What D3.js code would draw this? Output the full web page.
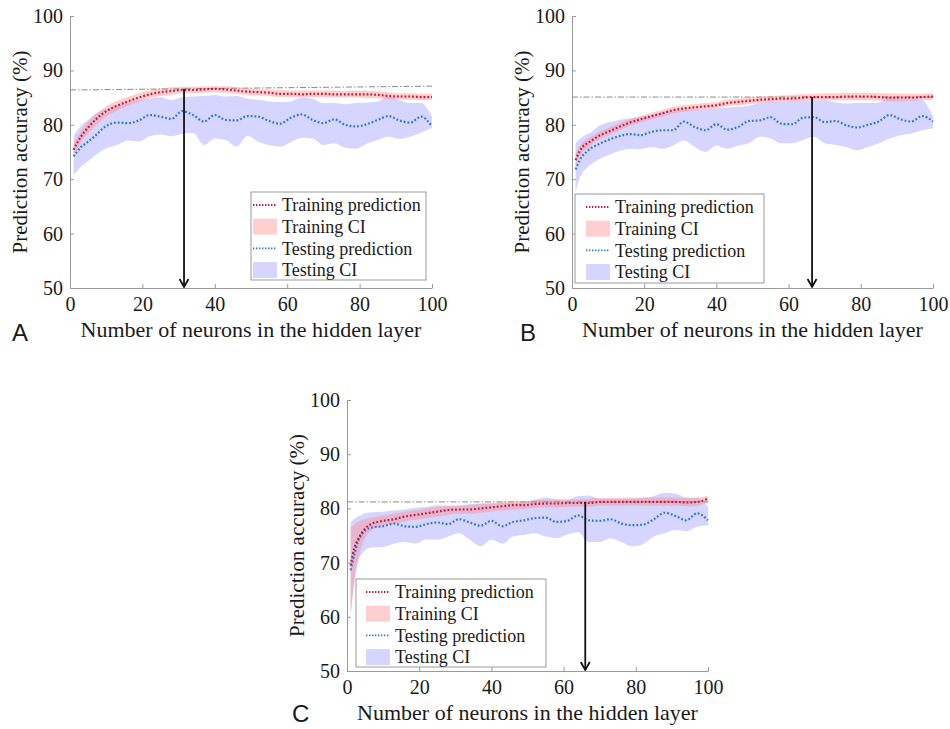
<!DOCTYPE html>
<html>
<head>
<meta charset="utf-8">
<script src="https://cdn.jsdelivr.net/npm/d3@7"></script>
<style>
  body { margin: 0; background: #fff; }
  svg text { font-family: "Liberation Serif", "Times New Roman", serif; fill: #1a1a1a; }
  svg text.letter { font-family: "Liberation Sans", Arial, sans-serif; }
</style>
</head>
<body>
<div id="chart"></div>
<script>
// Accuracy vs hidden layer size, three panels (A, B, C)
const WIDTH = 950;
const HEIGHT = 729;

const NEURONS = [1, 2, 3, 4, 5, 7, 10, 13, 16, 19, 22, 25, 28, 31, 34, 37, 40, 43, 46, 49,
  52, 55, 58, 61, 64, 67, 70, 73, 76, 79, 82, 85, 88, 91, 94, 97, 100];

// panel A
const A_TRAIN = [75.4, 76.7, 77.8, 78.7, 79.5, 80.9, 82.5, 83.5, 84.3, 85.0, 85.6, 86.0, 86.2, 86.4, 86.4, 86.5, 86.6, 86.5, 86.3, 86.1,
  86.0, 85.9, 85.7, 85.7, 85.6, 85.7, 85.7, 85.6, 85.6, 85.6, 85.6, 85.5, 85.3, 85.2, 85.2, 85.1, 85.1];
const A_TRAIN_HI = [76.6, 77.8, 78.9, 79.8, 80.6, 81.9, 83.4, 84.4, 85.1, 85.8, 86.3, 86.7, 86.9, 87.0, 87.0, 87.1, 87.1, 87.1, 86.9, 86.7,
  86.6, 86.5, 86.4, 86.3, 86.3, 86.3, 86.3, 86.3, 86.2, 86.3, 86.3, 86.1, 86.0, 85.8, 85.8, 85.7, 85.7];
const A_TRAIN_LO = [74.3, 75.5, 76.7, 77.6, 78.4, 79.8, 81.5, 82.6, 83.5, 84.2, 84.9, 85.3, 85.5, 85.8, 85.8, 85.9, 86.0, 85.9, 85.7, 85.5,
  85.4, 85.3, 85.1, 85.1, 85.0, 85.1, 85.1, 85.0, 85.0, 85.0, 84.9, 84.9, 84.7, 84.6, 84.6, 84.5, 84.5];
const A_TEST = [74.2, 75.1, 75.9, 76.4, 76.9, 78.0, 79.8, 80.4, 80.3, 80.8, 81.8, 81.5, 81.1, 82.5, 81.8, 80.6, 81.8, 80.9, 80.8, 81.6,
  81.5, 80.7, 80.2, 81.3, 81.9, 80.9, 80.3, 81.0, 80.0, 79.7, 80.1, 80.9, 81.6, 80.8, 80.4, 81.5, 79.7];
const A_TEST_HI = [78.0, 79.0, 79.8, 80.4, 80.9, 82.0, 82.9, 83.6, 84.1, 84.5, 84.8, 85.1, 84.5, 85.1, 85.2, 85.3, 85.5, 85.2, 85.3, 84.8,
  84.6, 84.3, 84.2, 84.3, 85.0, 84.8, 84.0, 84.0, 83.8, 84.0, 84.1, 84.3, 85.2, 84.5, 84.0, 84.0, 81.5];
const A_TEST_LO = [70.8, 71.5, 72.3, 72.8, 73.3, 74.4, 75.7, 76.3, 77.1, 76.9, 77.9, 78.2, 77.9, 78.3, 78.5, 76.3, 77.5, 77.2, 76.0, 78.0,
  76.9, 76.3, 76.0, 76.8, 77.6, 77.5, 76.3, 76.6, 75.8, 75.6, 76.5, 77.2, 77.8, 77.4, 77.8, 78.6, 79.4];

// panel B
const B_TRAIN = [73.5, 75.0, 76.0, 76.5, 76.9, 77.8, 78.7, 79.6, 80.4, 81.0, 81.6, 82.1, 82.7, 83.0, 83.2, 83.4, 83.6, 84.0, 84.2, 84.4,
  84.6, 84.7, 84.8, 84.8, 85.0, 85.1, 85.1, 85.1, 85.2, 85.2, 85.2, 85.1, 85.0, 85.0, 85.0, 85.1, 85.2];
const B_TRAIN_HI = [74.6, 76.0, 76.9, 77.4, 77.7, 78.5, 79.4, 80.3, 81.0, 81.6, 82.2, 82.7, 83.3, 83.6, 83.8, 84.0, 84.2, 84.6, 84.8, 85.0,
  85.2, 85.3, 85.4, 85.5, 85.6, 85.7, 85.8, 85.8, 85.9, 85.9, 85.9, 85.8, 85.8, 85.7, 85.7, 85.7, 85.8];
const B_TRAIN_LO = [72.4, 74.0, 75.1, 75.6, 76.1, 77.1, 78.0, 78.9, 79.8, 80.4, 81.0, 81.5, 82.1, 82.4, 82.6, 82.8, 83.0, 83.4, 83.6, 83.8,
  84.0, 84.1, 84.2, 84.2, 84.4, 84.5, 84.5, 84.5, 84.5, 84.5, 84.5, 84.4, 84.3, 84.3, 84.4, 84.5, 84.6];
const B_TEST = [71.8, 73.3, 74.4, 75.0, 75.6, 76.3, 77.2, 77.9, 78.3, 78.1, 78.7, 79.0, 79.0, 80.6, 79.6, 79.0, 80.1, 79.1, 79.6, 80.7,
  80.8, 81.4, 80.2, 80.1, 81.3, 81.4, 80.5, 80.7, 79.9, 79.5, 80.0, 80.6, 81.8, 81.0, 80.6, 81.6, 80.6];
const B_TEST_HI = [76.6, 77.3, 77.8, 78.2, 78.5, 79.6, 80.4, 80.9, 81.2, 81.5, 81.7, 82.4, 82.6, 82.8, 82.7, 82.8, 83.0, 83.2, 83.3, 83.5,
  84.0, 84.2, 84.2, 84.3, 84.4, 84.5, 84.5, 84.1, 83.9, 84.0, 84.0, 84.1, 85.2, 84.6, 84.7, 84.5, 81.5];
const B_TEST_LO = [67.7, 70.0, 71.3, 72.0, 72.6, 73.5, 74.4, 75.2, 75.6, 75.5, 75.9, 75.6, 76.2, 77.1, 75.9, 75.0, 76.2, 75.6, 76.2, 76.6,
  77.8, 77.5, 76.6, 76.6, 77.2, 77.8, 76.6, 76.3, 75.9, 75.3, 75.9, 76.6, 77.5, 78.1, 78.4, 79.0, 79.3];

// panel C
const C_TRAIN = [69.5, 72.6, 74.2, 75.4, 76.3, 77.2, 77.7, 78.0, 78.5, 78.8, 79.1, 79.4, 79.7, 79.8, 79.8, 80.0, 80.2, 80.4, 80.6, 80.6,
  80.8, 80.9, 80.9, 81.0, 81.0, 81.0, 81.2, 81.2, 81.2, 81.2, 81.2, 81.2, 81.2, 81.2, 81.1, 81.2, 81.8];
const C_TRAIN_HI = [76.5, 77.0, 77.5, 77.8, 78.0, 78.3, 78.7, 79.0, 79.4, 79.7, 80.0, 80.3, 80.5, 80.6, 80.6, 80.8, 81.0, 81.2, 81.3, 81.3,
  81.5, 81.6, 81.6, 81.7, 81.7, 81.8, 81.9, 81.9, 81.9, 82.0, 82.0, 82.0, 82.0, 82.0, 81.9, 82.0, 82.3];
const C_TRAIN_LO = [60.5, 66.0, 70.0, 72.8, 74.5, 76.0, 76.8, 77.1, 77.6, 77.9, 78.2, 78.5, 78.8, 79.0, 79.0, 79.2, 79.4, 79.6, 79.8, 79.9,
  80.1, 80.2, 80.2, 80.3, 80.3, 80.3, 80.5, 80.5, 80.5, 80.5, 80.5, 80.5, 80.5, 80.5, 80.4, 80.5, 81.1];
const C_TEST = [68.6, 71.4, 73.8, 75.1, 75.9, 76.5, 76.7, 77.2, 76.7, 76.6, 77.1, 77.4, 77.1, 78.0, 77.4, 76.8, 77.7, 76.7, 77.5, 77.8,
  78.2, 78.3, 77.5, 77.7, 78.7, 77.8, 77.7, 78.0, 77.2, 76.9, 77.0, 78.0, 79.2, 78.6, 77.8, 79.1, 77.8];
const C_TEST_HI = [77.5, 78.0, 78.5, 78.8, 79.1, 79.3, 79.4, 79.6, 79.8, 80.1, 80.3, 80.6, 80.5, 80.5, 80.8, 80.9, 80.9, 81.0, 81.0, 81.2,
  81.6, 82.0, 81.7, 81.6, 82.3, 82.4, 81.8, 81.8, 81.8, 81.8, 81.9, 82.3, 82.9, 82.7, 82.0, 81.9, 80.3];
const C_TEST_LO = [60.0, 66.8, 70.2, 71.5, 72.3, 72.8, 72.9, 73.5, 73.8, 73.5, 74.3, 74.2, 74.8, 75.4, 74.2, 73.0, 74.2, 73.5, 74.8, 75.1,
  75.4, 74.8, 74.5, 75.2, 75.6, 73.8, 73.8, 74.5, 73.8, 73.0, 73.4, 74.8, 75.4, 76.0, 75.8, 76.6, 76.9];

// best-accuracy reference line (value at x=0 and x=100) and arrow position, per panel
const REF_START = [86.4, 85.1, 81.2];
const REF_END = [87.1, 85.1, 81.2];
const ARROW_AT = [31.5, 66.5, 66];

const X_TICKS = [0, 20, 40, 60, 80, 100];
const Y_TICKS = [50, 60, 70, 80, 90, 100];
const LEGEND_LABELS = ["Training prediction", "Training CI", "Testing prediction", "Testing CI"];
const PANEL_LETTERS = ["A", "B", "C"];
const X_TITLE = "Number of neurons in the hidden layer";
const Y_TITLE = "Prediction accuracy (%)";

const TRAIN_LINE = "#c8173c";
const TRAIN_FILL = "rgb(255,140,140)";
const TEST_LINE = "#2a78d6";
const TEST_FILL = "rgb(150,150,255)";

// layout of each panel (pixels)
const PANELS = [
  { left: 70, right: 432, top: 16, bottom: 288, letter: [12, 341],
    legend: { x: 251, y: 192, w: 175, h: 88, pad: 2 },
    train: A_TRAIN, trainLo: A_TRAIN_LO, trainHi: A_TRAIN_HI, test: A_TEST, testLo: A_TEST_LO, testHi: A_TEST_HI },
  { left: 572, right: 933, top: 16, bottom: 288, letter: [520, 341],
    legend: { x: 575, y: 194, w: 189, h: 89, pad: 11 },
    train: B_TRAIN, trainLo: B_TRAIN_LO, trainHi: B_TRAIN_HI, test: B_TEST, testLo: B_TEST_LO, testHi: B_TEST_HI },
  { left: 347, right: 708, top: 400, bottom: 671, letter: [292, 722],
    legend: { x: 356, y: 579, w: 190, h: 88, pad: 10 },
    train: C_TRAIN, trainLo: C_TRAIN_LO, trainHi: C_TRAIN_HI, test: C_TEST, testLo: C_TEST_LO, testHi: C_TEST_HI }
];

var svg;

setup();

function setup() {
  svg = d3.select("#chart")
    .append("svg")
    .attr("width", WIDTH)
    .attr("height", HEIGHT);

  PANELS.forEach((p, i) => drawPanel(p, i));
}

function drawPanel(p, i) {
  const x = d3.scaleLinear().domain([0, 100]).range([p.left, p.right]);
  const y = d3.scaleLinear().domain([50, 100]).range([p.bottom, p.top]);
  const g = svg.append("g").attr("class", "panel-" + PANEL_LETTERS[i]);

  const rows = NEURONS.map((n, k) => ({
    n: n,
    tr: p.train[k], trLo: p.trainLo[k], trHi: p.trainHi[k],
    te: p.test[k], teLo: p.testLo[k], teHi: p.testHi[k]
  }));

  const bandTest = d3.area().x(d => x(d.n)).y0(d => y(d.teLo)).y1(d => y(d.teHi)).curve(d3.curveMonotoneX);
  const bandTrain = d3.area().x(d => x(d.n)).y0(d => y(d.trLo)).y1(d => y(d.trHi)).curve(d3.curveMonotoneX);
  const lineTest = d3.line().x(d => x(d.n)).y(d => y(d.te)).curve(d3.curveMonotoneX);
  const lineTrain = d3.line().x(d => x(d.n)).y(d => y(d.tr)).curve(d3.curveMonotoneX);

  g.append("path").datum(rows).attr("d", bandTest)
    .attr("fill", TEST_FILL).attr("fill-opacity", 0.4);
  g.append("path").datum(rows).attr("d", bandTrain)
    .attr("fill", TRAIN_FILL).attr("fill-opacity", 0.42);

  // dash-dot reference line at the best training accuracy
  g.append("line")
    .attr("x1", x(0)).attr("x2", x(100))
    .attr("y1", y(REF_START[i])).attr("y2", y(REF_END[i]))
    .attr("stroke", "#8a8a8a").attr("stroke-width", 1)
    .attr("stroke-dasharray", "6,2,1.5,2");

  g.append("path").datum(rows).attr("d", lineTest)
    .attr("fill", "none").attr("stroke", TEST_LINE)
    .attr("stroke-width", 2.2).attr("stroke-dasharray", "1.8,2");
  g.append("path").datum(rows).attr("d", lineTrain)
    .attr("fill", "none").attr("stroke", TRAIN_LINE)
    .attr("stroke-width", 2.2).attr("stroke-dasharray", "1.8,2");

  // arrow down to the chosen layer size
  const ax = x(ARROW_AT[i]);
  const refAt = REF_START[i] + (REF_END[i] - REF_START[i]) * ARROW_AT[i] / 100;
  const yb = y(50);
  g.append("line")
    .attr("x1", ax).attr("x2", ax)
    .attr("y1", y(refAt)).attr("y2", yb - 1)
    .attr("stroke", "#111").attr("stroke-width", 1.8);
  g.append("path")
    .attr("d", `M${ax - 4.5},${yb - 9} L${ax},${yb - 1} L${ax + 4.5},${yb - 9}`)
    .attr("fill", "none").attr("stroke", "#111").attr("stroke-width", 1.8);

  // axes
  const xAxis = g.append("g").attr("transform", `translate(0,${p.bottom})`)
    .call(d3.axisBottom(x).tickValues(X_TICKS).tickSizeInner(-4).tickSizeOuter(0).tickPadding(9));
  const yAxis = g.append("g").attr("transform", `translate(${p.left},0)`)
    .call(d3.axisLeft(y).tickValues(Y_TICKS).tickSizeInner(-4).tickSizeOuter(0).tickPadding(7));
  [xAxis, yAxis].forEach(a => {
    a.attr("font-family", null).attr("font-size", null);
    a.select(".domain").attr("stroke", "#9a9a9a");
    a.selectAll(".tick line").attr("stroke", "#9a9a9a");
    a.selectAll(".tick text").attr("font-size", 20).attr("fill", "#1a1a1a");
  });

  g.append("text")
    .attr("x", (p.left + p.right) / 2).attr("y", p.bottom + 49)
    .attr("text-anchor", "middle").attr("font-size", 22)
    .text(X_TITLE);

  g.append("text")
    .attr("transform", `translate(${p.left - 50},${(p.top + p.bottom) / 2}) rotate(-90)`)
    .attr("text-anchor", "middle").attr("dy", "0.35em").attr("font-size", 21)
    .text(Y_TITLE);

  g.append("text").attr("class", "letter")
    .attr("x", p.letter[0]).attr("y", p.letter[1])
    .attr("font-size", 24)
    .text(PANEL_LETTERS[i]);

  drawLegend(g, p.legend);
}

function drawLegend(g, L) {
  const lg = g.append("g").attr("transform", `translate(${L.x},${L.y})`);
  lg.append("rect")
    .attr("width", L.w).attr("height", L.h)
    .attr("fill", "#fff").attr("stroke", "#9a9a9a").attr("stroke-width", 1);

  const rowY = d3.scalePoint().domain(LEGEND_LABELS).range([13, 78]);
  const sw = 24;

  LEGEND_LABELS.forEach((label, k) => {
    const cy = rowY(label);
    if (k === 0 || k === 2) {
      lg.append("line")
        .attr("x1", L.pad).attr("x2", L.pad + sw)
        .attr("y1", cy).attr("y2", cy)
        .attr("stroke", k === 0 ? TRAIN_LINE : TEST_LINE)
        .attr("stroke-width", 1.8).attr("stroke-dasharray", "1.4,1.6");
    } else {
      lg.append("rect")
        .attr("x", L.pad).attr("y", cy - 8)
        .attr("width", sw).attr("height", 16)
        .attr("fill", k === 1 ? TRAIN_FILL : TEST_FILL)
        .attr("fill-opacity", k === 1 ? 0.42 : 0.4);
    }
    lg.append("text")
      .attr("x", L.pad + sw + 5).attr("y", cy)
      .attr("dy", "0.35em").attr("font-size", 18)
      .text(label);
  });
}
</script>
</body>
</html>
